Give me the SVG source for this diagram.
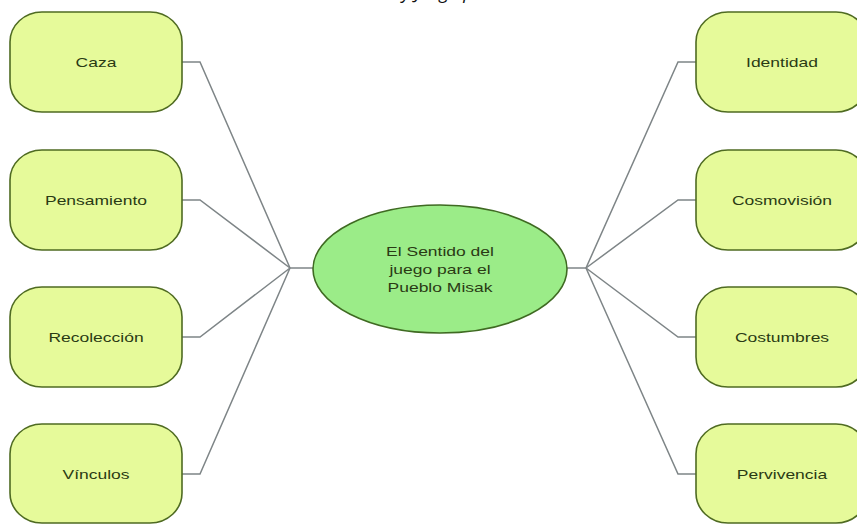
<svg xmlns="http://www.w3.org/2000/svg" width="857" height="525" viewBox="0 0 857 525">
<style>
.box{fill:#E6FA9A;stroke:#4F6B22;stroke-width:1.6}
.ell{fill:#9BEC88;stroke:#3F6A22;stroke-width:1.6}
.lbl{font-family:"Liberation Sans",Arial,sans-serif;font-size:12.5px;fill:#2A3A14;text-anchor:middle}
.con{fill:none;stroke:#7E8587;stroke-width:1.5}
.cap{font-family:"Open Sans","Liberation Sans",sans-serif;font-style:italic;font-size:18px;fill:#111}
</style>
<rect width="857" height="525" fill="#ffffff"/>
<text class="cap" x="402" y="-1.5">y Juego p</text>
<g id="connectors">
<polyline class="con" points="182,62 200,62 290,268"/>
<polyline class="con" points="182,200 200,200 290,268"/>
<polyline class="con" points="182,337 200,337 290,268"/>
<polyline class="con" points="182,474 200,474 290,268"/>
<line class="con" x1="290" y1="268" x2="313" y2="268"/>
<polyline class="con" points="696,62 678,62 586,268"/>
<polyline class="con" points="696,200 678,200 586,268"/>
<polyline class="con" points="696,337 678,337 586,268"/>
<polyline class="con" points="696,474 678,474 586,268"/>
<line class="con" x1="566" y1="268" x2="586" y2="268"/>
</g>
<g id="center">
<ellipse class="ell" cx="440" cy="269" rx="127" ry="64"/>
<g transform="translate(440,0) scale(1.4,1)">
<text class="lbl" x="0" y="256">El Sentido del</text>
<text class="lbl" x="0" y="274">juego para el</text>
<text class="lbl" x="0" y="292">Pueblo Misak</text>
</g>
</g>
<g id="caza"><rect class="box" x="10" y="12" width="172" height="100" rx="32" ry="30"/><text class="lbl" transform="translate(96,66.5) scale(1.4,1)">Caza</text></g>
<g id="pensamiento"><rect class="box" x="10" y="150" width="172" height="100" rx="32" ry="30"/><text class="lbl" transform="translate(96,204.5) scale(1.4,1)">Pensamiento</text></g>
<g id="recoleccion"><rect class="box" x="10" y="287" width="172" height="100" rx="32" ry="30"/><text class="lbl" transform="translate(96,341.5) scale(1.4,1)">Recolección</text></g>
<g id="vinculos"><rect class="box" x="10" y="424" width="172" height="99" rx="32" ry="30"/><text class="lbl" transform="translate(96,478.5) scale(1.4,1)">Vínculos</text></g>
<g id="identidad"><rect class="box" x="696" y="12" width="172" height="100" rx="32" ry="30"/><text class="lbl" transform="translate(782,66.5) scale(1.4,1)">Identidad</text></g>
<g id="cosmovision"><rect class="box" x="696" y="150" width="172" height="100" rx="32" ry="30"/><text class="lbl" transform="translate(782,204.5) scale(1.4,1)">Cosmovisión</text></g>
<g id="costumbres"><rect class="box" x="696" y="287" width="172" height="100" rx="32" ry="30"/><text class="lbl" transform="translate(782,341.5) scale(1.4,1)">Costumbres</text></g>
<g id="pervivencia"><rect class="box" x="696" y="424" width="172" height="99" rx="32" ry="30"/><text class="lbl" transform="translate(782,478.5) scale(1.4,1)">Pervivencia</text></g>
</svg>
